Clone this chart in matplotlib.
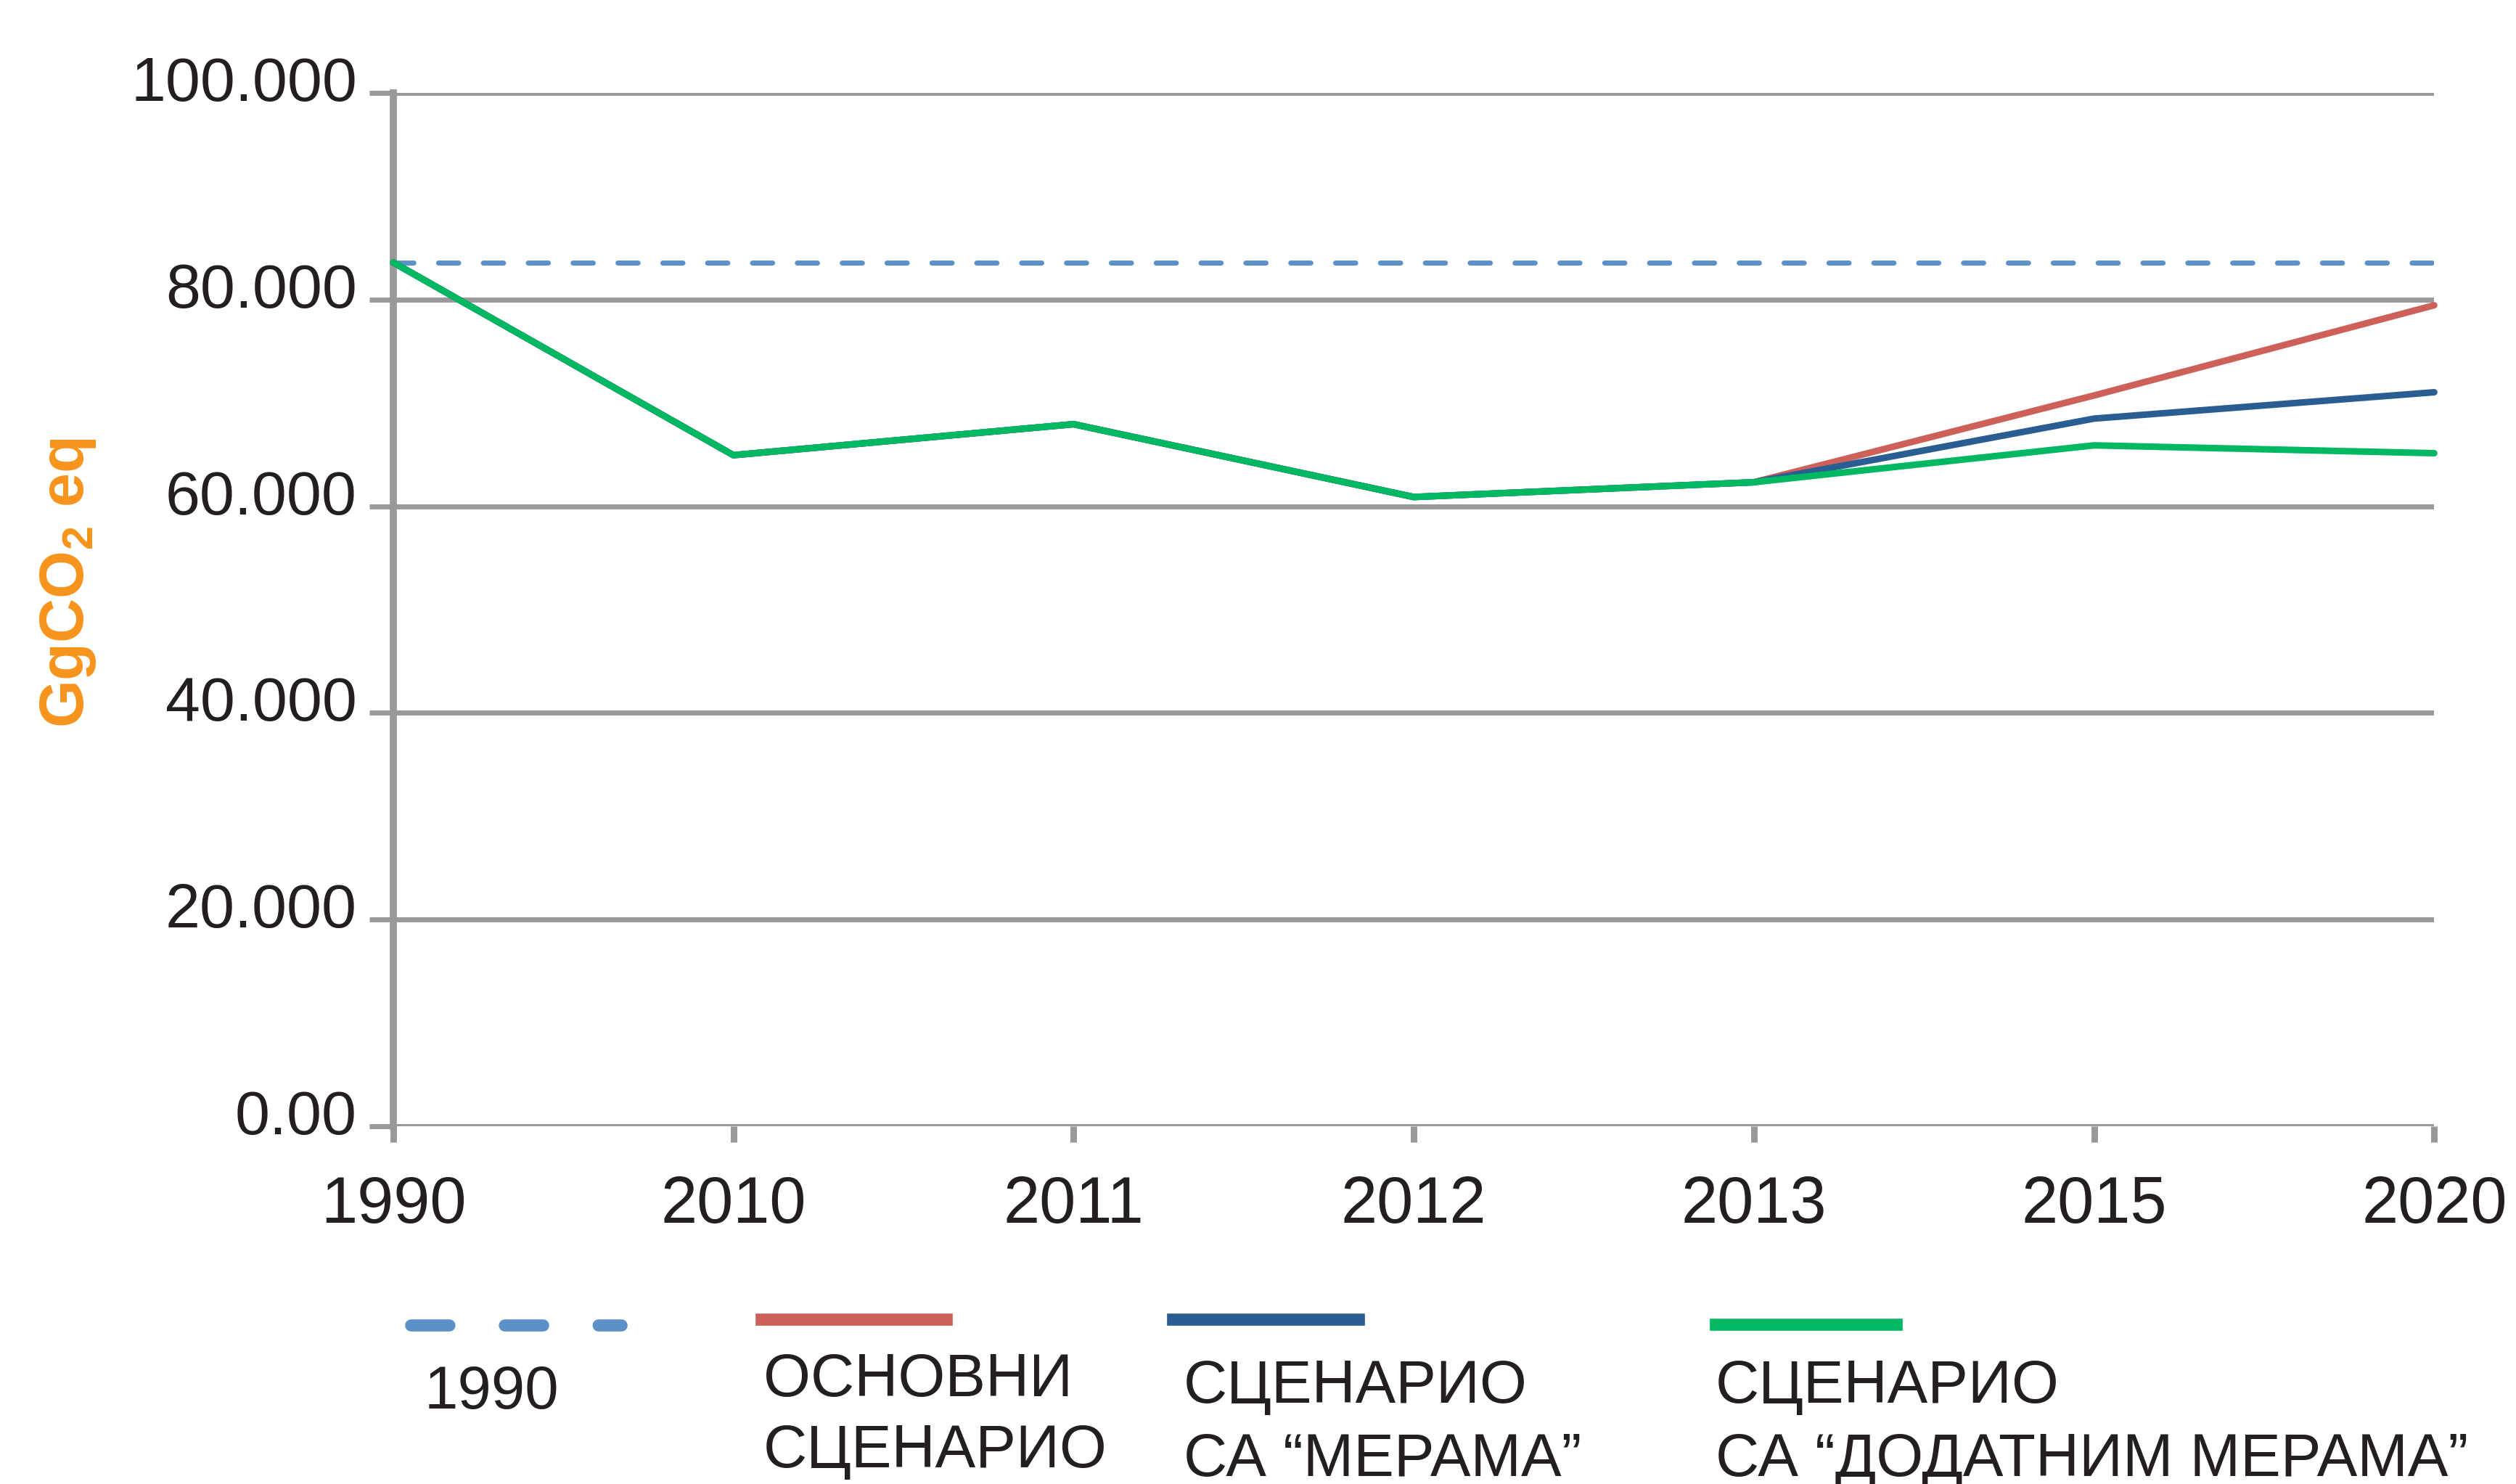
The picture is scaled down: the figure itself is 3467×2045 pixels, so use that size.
import numpy as np
import matplotlib
matplotlib.use('Agg')
import matplotlib.pyplot as plt
from matplotlib.lines import Line2D
from matplotlib.transforms import ScaledTranslation

plt.rcParams['font.family'] = ['Liberation Sans', 'DejaVu Sans']
plt.rcParams['lines.scale_dashes'] = False

# podaci
godine = ['1990', '2010', '2011', '2012', '2013', '2015', '2020']
nivo_1990 = 83600
osnovni = [83600, 64950, 67950, 60900, 62330, 70730, 79460]
sa_merama = [83600, 64950, 67950, 60900, 62330, 68490, 71040]
sa_dodatnim = [83600, 64950, 67950, 60900, 62330, 65900, 65140]
y_ticks = [0, 20000, 40000, 60000, 80000, 100000]
y_labels = ['0.00', '20.000', '40.000', '60.000', '80.000', '100.000']
legenda = ['1990', 'ОСНОВНИ\nСЦЕНАРИО', 'СЦЕНАРИО\nСА “МЕРАМА”', 'СЦЕНАРИО\nСА “ДОДАТНИМ МЕРАМА”']

c_1990 = '#5b90c8'
c_red = '#cd6058'
c_blue = '#2a5d91'
c_green = '#00b862'
gray = '#999999'
txt = '#231f20'

fig = plt.figure(figsize=(34.67, 20.45), dpi=100)
ax = fig.add_axes([0.1563, 0.2411, 0.9675 - 0.1563, 0.9373 - 0.2411])

x = np.arange(len(godine))
ax.axhline(nivo_1990, color=c_1990, lw=5, dashes=(20, 24.5), dash_capstyle='round', zorder=3)
ax.plot(x, osnovni, color=c_red, lw=6.5, solid_capstyle='round', clip_on=False, zorder=4)
ax.plot(x, sa_merama, color=c_blue, lw=6.5, solid_capstyle='round', clip_on=False, zorder=5)
ax.plot(x, sa_dodatnim, color=c_green, lw=6.5, solid_capstyle='round', clip_on=False, zorder=6)

ax.set_xlim(0, len(godine) - 1)
ax.set_ylim(0, 100000)
ax.set_xticks(x)
ax.set_xticklabels(godine)
ax.set_yticks(y_ticks)
ax.set_yticklabels(y_labels)
ax.grid(axis='y', color=gray, lw=5, zorder=1)
ax.set_axisbelow(True)
for s in ['top', 'right', 'bottom']:
    ax.spines[s].set_visible(False)
ax.spines['left'].set_color(gray)
ax.spines['left'].set_linewidth(7)
ax.tick_params(axis='y', length=24, width=5, color=gray, pad=12, labelsize=62, labelcolor=txt)
ax.tick_params(axis='x', length=16, width=6.5, color=gray, pad=32, labelsize=65, labelcolor=txt)
# brojke na y osi malo iznad linija
for lab in ax.get_yticklabels():
    lab.set_transform(lab.get_transform() + ScaledTranslation(0, 0.2, fig.dpi_scale_trans))

fig.text(0.027, 0.607, 'GgCO$\\mathregular{_2}$ eq', rotation=90, ha='center', va='center',
         color='#f7941d', fontsize=61, fontweight='bold')

# legenda ispod grafika
fig.add_artist(Line2D([0.1633, 0.2469], [0.1073, 0.1073], color=c_1990, lw=12,
                      dashes=(38, 55), dash_capstyle='round'))
fig.add_artist(Line2D([0.3026, 0.3761], [0.1112, 0.1112], color=c_red, lw=12))
fig.add_artist(Line2D([0.4661, 0.5399], [0.1112, 0.1112], color=c_blue, lw=12))
fig.add_artist(Line2D([0.6819, 0.7537], [0.1076, 0.1076], color=c_green, lw=12))

fs = 60
fig.text(0.1687, 0.0509, legenda[0], va='baseline', fontsize=fs, color=txt)
fig.text(0.3034, 0.0112, legenda[1], va='baseline', fontsize=fs, color=txt, linespacing=1.33)
fig.text(0.4704, 0.0055, legenda[2], va='baseline', fontsize=fs, color=txt, linespacing=1.38)
fig.text(0.6819, 0.0055, legenda[3], va='baseline', fontsize=fs, color=txt, linespacing=1.38)

fig.savefig('out.png', dpi=100, facecolor='white')
